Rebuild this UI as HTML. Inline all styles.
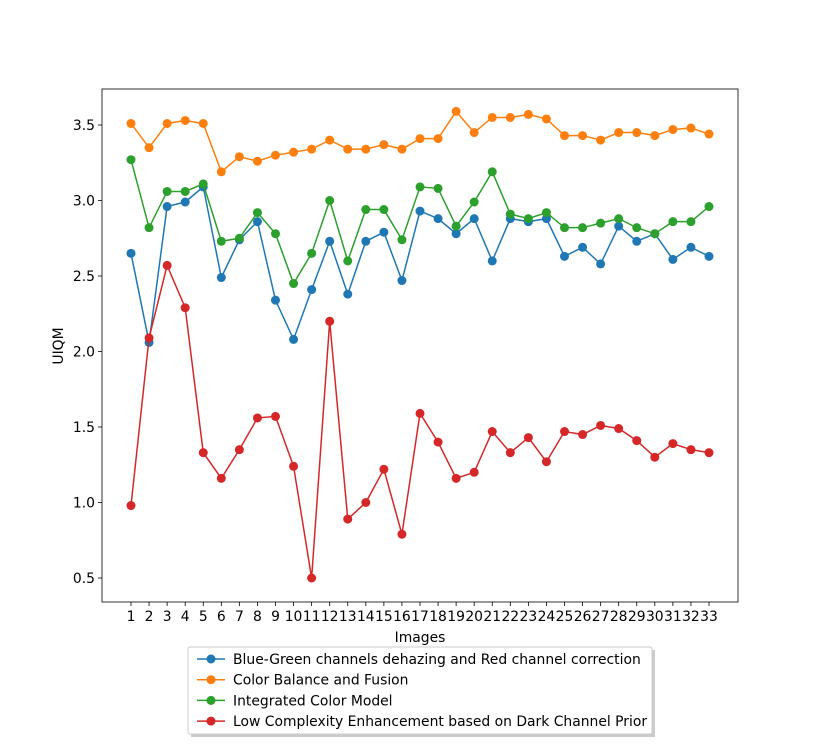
<!DOCTYPE html>
<html><head><meta charset="utf-8"><style>
body{margin:0;background:#fff;}
svg text{font-family:"DejaVu Sans","Liberation Sans",sans-serif;fill:#000;}
</style></head><body>
<svg id="chart" width="819" height="740" xmlns="http://www.w3.org/2000/svg"></svg>
<script>
const categories=[1,2,3,4,5,6,7,8,9,10,11,12,13,14,15,16,17,18,19,20,21,22,23,24,25,26,27,28,29,30,31,32,33];
const blueValues=[2.65,2.06,2.96,2.99,3.09,2.49,2.74,2.86,2.34,2.08,2.41,2.73,2.38,2.73,2.79,2.47,2.93,2.88,2.78,2.88,2.60,2.88,2.86,2.88,2.63,2.69,2.58,2.83,2.73,2.78,2.61,2.69,2.63];
const orangeValues=[3.51,3.35,3.51,3.53,3.51,3.19,3.29,3.26,3.30,3.32,3.34,3.40,3.34,3.34,3.37,3.34,3.41,3.41,3.59,3.45,3.55,3.55,3.57,3.54,3.43,3.43,3.40,3.45,3.45,3.43,3.47,3.48,3.44];
const greenValues=[3.27,2.82,3.06,3.06,3.11,2.73,2.75,2.92,2.78,2.45,2.65,3.00,2.60,2.94,2.94,2.74,3.09,3.08,2.83,2.99,3.19,2.91,2.88,2.92,2.82,2.82,2.85,2.88,2.82,2.78,2.86,2.86,2.96];
const redValues=[0.98,2.09,2.57,2.29,1.33,1.16,1.35,1.56,1.57,1.24,0.50,2.20,0.89,1.00,1.22,0.79,1.59,1.40,1.16,1.20,1.47,1.33,1.43,1.27,1.47,1.45,1.51,1.49,1.41,1.30,1.39,1.35,1.33];
const yTicks=[0.5,1.0,1.5,2.0,2.5,3.0,3.5];
const seriesNames=["Blue-Green channels dehazing and Red channel correction","Color Balance and Fusion","Integrated Color Model","Low Complexity Enhancement based on Dark Channel Prior"];
const colors=["#1f77b4","#ff7f0e","#2ca02c","#d62728"];
const svg=document.getElementById('chart');
const NS="http://www.w3.org/2000/svg";
const L=102,R=738,T=89,B=602;
const FS=13.9;
function xs(i){return 131+(i-1)*(709-131)/32;}
function ys(v){return 578-(v-0.5)*151;}
function mk(tag,attrs,parent){const e=document.createElementNS(NS,tag);for(const k in attrs)e.setAttribute(k,attrs[k]);(parent||svg).appendChild(e);return e;}
categories.forEach(c=>{
  const t=mk('line',{x1:xs(c),x2:xs(c),y1:B,y2:B+4,stroke:'#000','stroke-width':0.8});
  
  
  const tx=mk('text',{x:xs(c),y:B+19,'text-anchor':'middle','font-size':FS});
  tx.textContent=c;
  
  
});
yTicks.forEach(v=>{
  const t=mk('line',{x1:L-4,x2:L,y1:ys(v),y2:ys(v),stroke:'#000','stroke-width':0.8});
  
  
  const tx=mk('text',{x:L-7,y:ys(v)+5,'text-anchor':'end','font-size':FS});
  tx.textContent=v.toFixed(1);
  
  
});
const all=[blueValues,orangeValues,greenValues,redValues];
all.forEach((vals,si)=>{
  const g=mk('g',{});
  
  
  const pts=vals.map((v,i)=>xs(categories[i])+','+ys(v)).join(' ');
  const pl=mk('polyline',{points:pts,fill:'none',stroke:colors[si],'stroke-width':1.5},g);
  
  
  vals.forEach((v,i)=>{
    const c=mk('circle',{cx:xs(categories[i]),cy:ys(v),r:4.5,fill:colors[si]},g);
    
    
  });
});
const frame=mk('rect',{x:L,y:T,width:R-L,height:B-T,fill:'none',stroke:'#000','stroke-width':0.8});


const xl=mk('text',{x:420,y:642,'text-anchor':'middle','font-size':FS});
xl.textContent='Images';


const yl=mk('text',{x:63,y:346,'text-anchor':'middle','font-size':FS,transform:'rotate(-90 63 346)'});
yl.textContent='UIQM';


const lg=mk('g',{});


mk('rect',{x:191,y:650,width:464,height:87,fill:'#999',opacity:0.5},lg);
mk('rect',{x:188,y:647,width:464,height:87,fill:'#fff',stroke:'#ccc','stroke-width':1,rx:2},lg);
seriesNames.forEach((n,i)=>{
  const y=659+i*20.7;
  const e=mk('g',{},lg);
  
  
  mk('line',{x1:197,x2:225,y1:y,y2:y,stroke:colors[i],'stroke-width':1.5},e);
  mk('circle',{cx:211,cy:y,r:4.5,fill:colors[i]},e);
  const t=mk('text',{x:233,y:y+5,'font-size':FS},e);
  t.textContent=n;
});
</script>
</body></html>
